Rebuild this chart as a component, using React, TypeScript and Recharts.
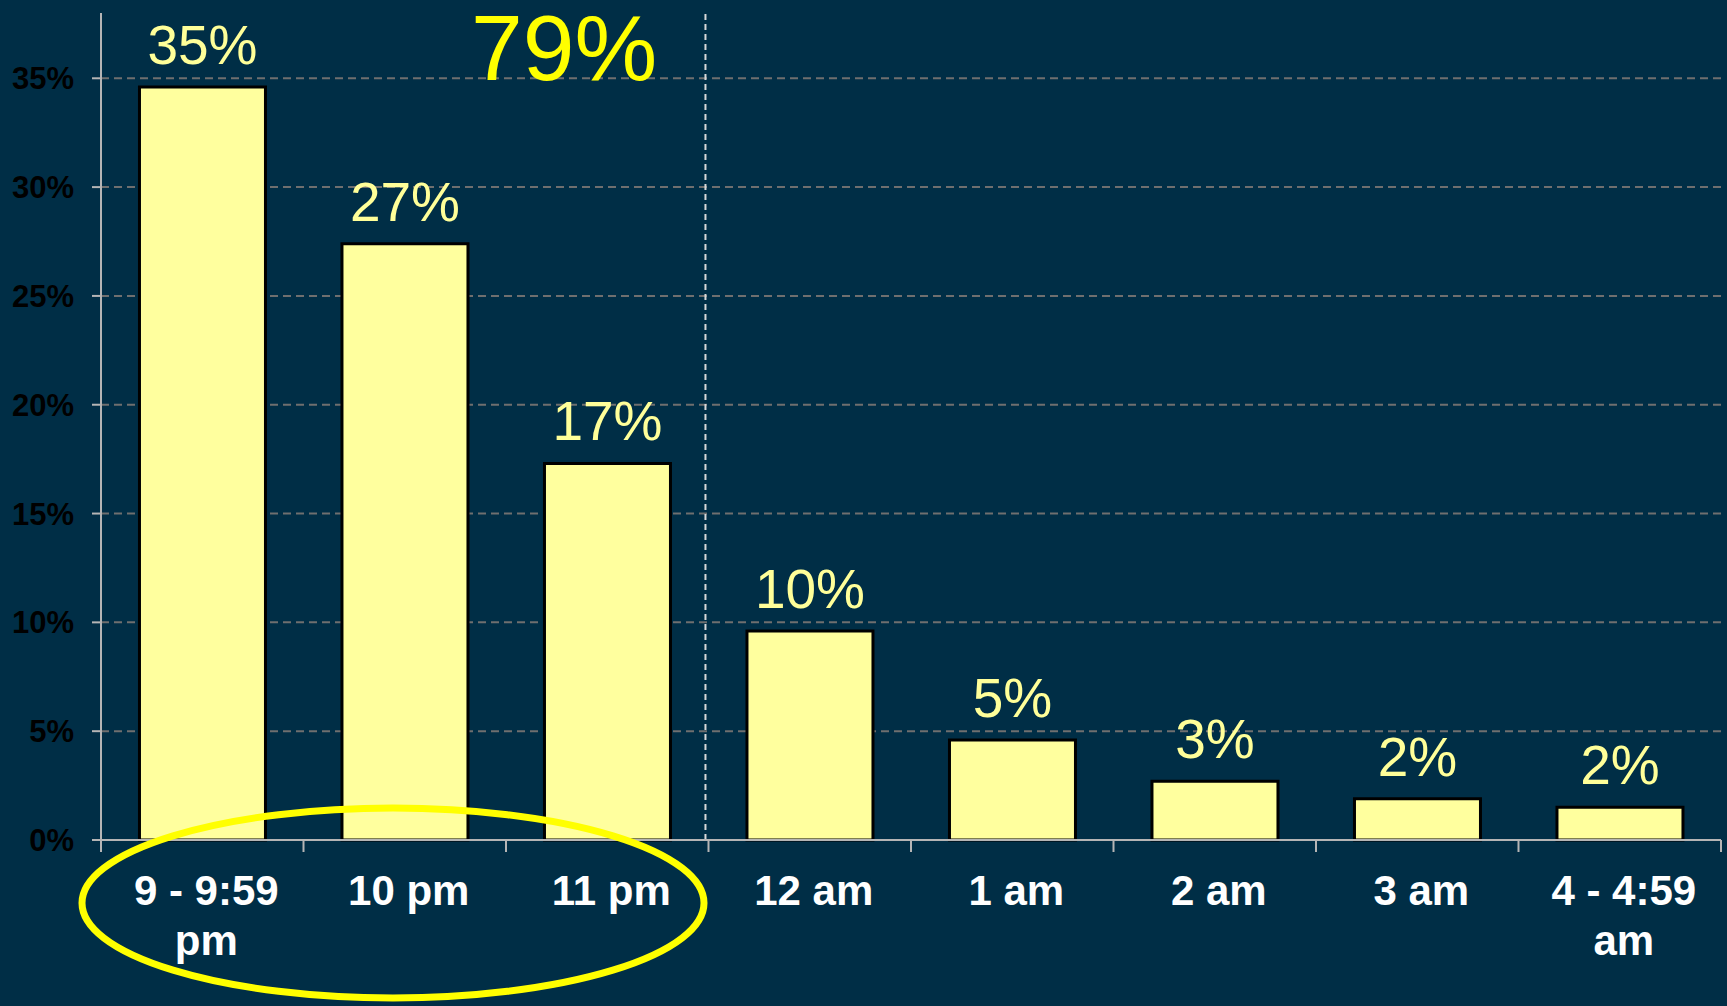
import React from "react";
import {
  BarChart,
  Bar,
  XAxis,
  YAxis,
  CartesianGrid,
  LabelList,
  ReferenceLine,
} from "recharts";

// share of arrivals by hour (percent)
const hours = [
  "9 - 9:59 pm",
  "10 pm",
  "11 pm",
  "12 am",
  "1 am",
  "2 am",
  "3 am",
  "4 - 4:59 am",
];
const shares = [34.6, 27.4, 17.3, 9.6, 4.6, 2.7, 1.9, 1.5];
const yTicks = [0, 5, 10, 15, 20, 25, 30, 35];
const slotEdges = [0, 1, 2, 3, 4, 5, 6, 7, 8];

const data = hours.map((hour, i) => ({ hour, share: shares[i], idx: i + 0.5 }));

// the three evening hours circled on the slide
const eveningTotal = shares
  .slice(0, 3)
  .reduce((sum, v) => sum + Math.round(v), 0);

const BG = "#002E46";
const FONT = "'Liberation Sans', Arial, sans-serif";

// long labels go on two lines, like the slide
function splitLabel(label: string) {
  if (label.length <= 8) return [label];
  const cut = label.lastIndexOf(" ");
  return [label.slice(0, cut), label.slice(cut + 1)];
}

function HourTick(props: any) {
  const { x, y, payload } = props;
  const lines = splitLabel(String(payload.value));
  return (
    <text
      x={x + 4}
      y={y}
      textAnchor="middle"
      fill="#ffffff"
      style={{ fontSize: 42, fontWeight: "bold", fontFamily: FONT }}
    >
      {lines.map((line, i) => (
        <tspan key={i} x={x + 4} dy={i === 0 ? 30 : 50}>
          {line}
        </tspan>
      ))}
    </text>
  );
}

export default function App() {
  return (
    <div
      style={{
        position: "fixed",
        left: 0,
        top: 0,
        width: 1727,
        height: 1006,
        background: BG,
        fontFamily: FONT,
      }}
    >
      <BarChart
        width={1727}
        height={1006}
        data={data}
        margin={{ top: 13, right: 6, left: 0, bottom: 0 }}
        barCategoryGap="19%"
      >
        <CartesianGrid
          xAxisId="hours"
          horizontal
          vertical={false}
          horizontalValues={yTicks}
          stroke="#6f6f6f"
          strokeDasharray="8 5"
          strokeWidth={2}
        />
        {/* axis line with ticks on the slot boundaries */}
        <XAxis
          xAxisId="edges"
          type="number"
          dataKey="idx"
          domain={[0, 8]}
          ticks={slotEdges}
          allowDataOverflow
          height={12}
          stroke="#b5b5b5"
          strokeWidth={2}
          tickSize={12}
          tickFormatter={() => ""}
        />
        {/* hour labels under the slots */}
        <XAxis
          xAxisId="hours"
          dataKey="hour"
          height={154}
          interval={0}
          axisLine={false}
          tickLine={false}
          tickSize={0}
          tickMargin={23}
          tick={<HourTick />}
        />
        <YAxis
          width={101}
          domain={[0, 38]}
          ticks={yTicks}
          tickFormatter={(v) => `${v}%`}
          stroke="#b5b5b5"
          strokeWidth={2}
          tickSize={9}
          tickMargin={18}
          tick={{
            fill: "#000000",
            fontSize: 31,
            fontWeight: "bold",
            fontFamily: FONT,
          }}
        />
        <ReferenceLine
          xAxisId="edges"
          x={2.985}
          stroke="#d9d9d9"
          strokeWidth={2}
          strokeDasharray="6 4"
        />
        <Bar
          xAxisId="hours"
          dataKey="share"
          fill="#FFFF9E"
          stroke="#000000"
          strokeWidth={3}
          isAnimationActive={false}
        >
          <LabelList
            dataKey="share"
            position="top"
            offset={23}
            formatter={(v: any) => `${Math.round(Number(v))}%`}
            fill="#FFFF99"
            style={{ fontSize: 55, fontFamily: FONT }}
          />
        </Bar>
      </BarChart>
      <svg
        width={1727}
        height={1006}
        style={{ position: "absolute", left: 0, top: 0, pointerEvents: "none" }}
      >
        <text
          x={564}
          y={80}
          textAnchor="middle"
          fill="#FFFF00"
          style={{ fontSize: 93, fontFamily: FONT }}
        >
          {eveningTotal}%
        </text>
        <ellipse
          cx={393}
          cy={903}
          rx={311}
          ry={95}
          fill="none"
          stroke="#FFFF00"
          strokeWidth={7}
        />
      </svg>
    </div>
  );
}
